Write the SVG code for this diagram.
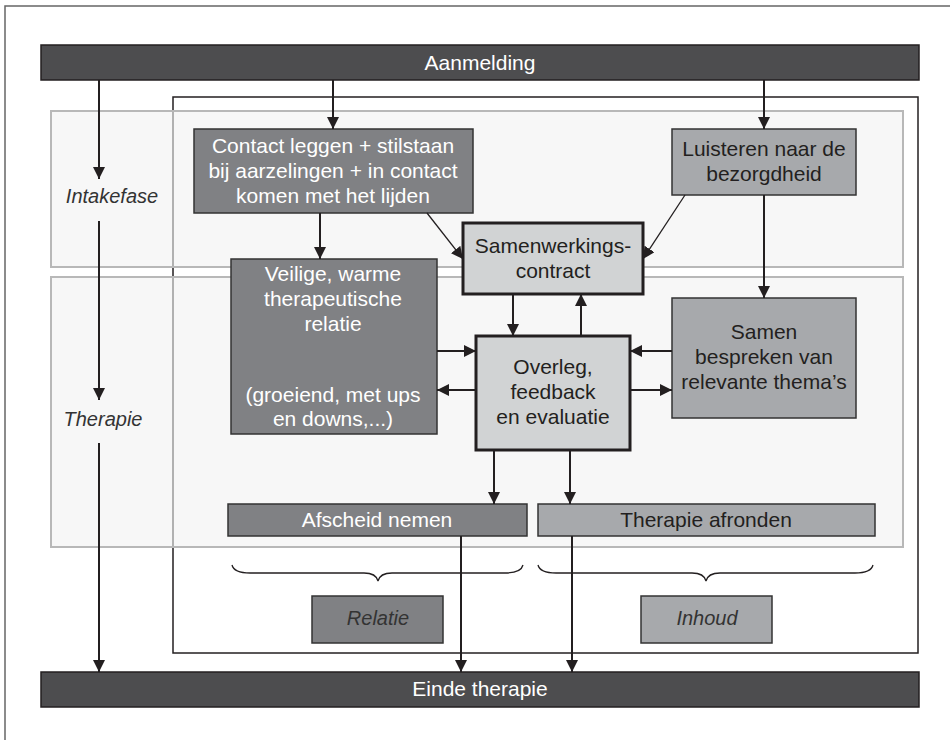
<svg xmlns="http://www.w3.org/2000/svg" width="950" height="740" viewBox="0 0 950 740">
<defs>
<marker id="ah" markerUnits="userSpaceOnUse" markerWidth="12" markerHeight="12" viewBox="0 0 12 12" refX="12" refY="6" orient="auto">
<path d="M0,0 L12,6 L0,12 z" fill="#231f20"/>
</marker>
<style>
text{font-family:"Liberation Sans",Arial,sans-serif;font-size:21px;text-anchor:middle}
.w{fill:#ffffff}
.k{fill:#231f20}
.it{font-style:italic;font-size:20px;fill:#333333}
.bar{fill:#4d4d4f;stroke:#231f20;stroke-width:1.5}
.dk{fill:#808184;stroke:#333333;stroke-width:1.5}
.lt{fill:#a7a9ac;stroke:#333333;stroke-width:1.5}
.ct{fill:#d1d3d4;stroke:#231f20;stroke-width:3}
.band{fill:#f7f7f7;stroke:#b8b8b8;stroke-width:2}
.c{fill:none;stroke:#231f20;stroke-width:2;marker-end:url(#ah)}
.d{fill:none;stroke:#231f20;stroke-width:1.3;marker-end:url(#ah)}
.br{fill:none;stroke:#231f20;stroke-width:1.3}
</style>
</defs>
<rect x="0" y="0" width="950" height="740" fill="#ffffff"/>
<g id="frame">
<path d="M5,740 L5,6 L950,6" fill="none" stroke="#666666" stroke-width="1.5"/>
</g>
<g id="inner-frame">
<rect x="173" y="97" width="745" height="556" fill="#ffffff" stroke="#231f20" stroke-width="1.5"/>
</g>
<g id="band-intake">
<rect x="51" y="111" width="852" height="156" class="band"/>
</g>
<g id="band-therapie">
<rect x="51" y="277" width="852" height="270" class="band"/>
</g>
<path d="M173,112 L173,266 M173,278 L173,546" stroke="#9a9a9a" stroke-width="1.5"/>
<g id="aanmelding">
<rect x="41" y="45" width="878" height="35" class="bar"/>
<text x="480" y="70" class="w">Aanmelding</text>
</g>
<g id="einde">
<rect x="41" y="672" width="878" height="35" class="bar"/>
<text x="480" y="696" class="w">Einde therapie</text>
</g>
<g id="intakefase">
<text x="112" y="203" class="it">Intakefase</text>
</g>
<g id="therapie">
<text x="103" y="426" class="it">Therapie</text>
</g>
<g id="contact">
<rect x="194" y="129" width="279" height="84" class="dk"/>
<text x="333" y="153" class="w">Contact leggen + stilstaan</text>
<text x="333" y="178" class="w">bij aarzelingen + in contact</text>
<text x="333" y="203" class="w">komen met het lijden</text>
</g>
<g id="luisteren">
<rect x="672" y="129" width="184" height="66" class="lt"/>
<text x="764" y="156" class="k">Luisteren naar de</text>
<text x="764" y="181" class="k">bezorgdheid</text>
</g>
<g id="samenwerkingscontract">
<rect x="463" y="223" width="180" height="71" class="ct"/>
<text x="553" y="253" class="k">Samenwerkings-</text>
<text x="553" y="278" class="k">contract</text>
</g>
<g id="veilige">
<rect x="231" y="259" width="206" height="175" class="dk"/>
<text x="333" y="281" class="w">Veilige, warme</text>
<text x="333" y="306" class="w">therapeutische</text>
<text x="333" y="331" class="w">relatie</text>
<text x="333" y="402" class="w">(groeiend, met ups</text>
<text x="333" y="426" class="w">en downs,...)</text>
</g>
<g id="overleg">
<rect x="476" y="336" width="154" height="114" class="ct"/>
<text x="553" y="374" class="k">Overleg,</text>
<text x="553" y="399" class="k">feedback</text>
<text x="553" y="424" class="k">en evaluatie</text>
</g>
<g id="samen">
<rect x="672" y="298" width="184" height="120" class="lt"/>
<text x="764" y="339" class="k">Samen</text>
<text x="764" y="364" class="k">bespreken van</text>
<text x="764" y="389" class="k">relevante thema’s</text>
</g>
<g id="afscheid">
<rect x="228" y="504" width="299" height="32" class="dk"/>
<text x="377" y="527" class="w">Afscheid nemen</text>
</g>
<g id="afronden">
<rect x="538" y="504" width="337" height="32" class="lt"/>
<text x="706" y="527" class="k">Therapie afronden</text>
</g>
<g id="relatie">
<rect x="312" y="596" width="131" height="47" class="dk"/>
<text x="378" y="625" class="it">Relatie</text>
</g>
<g id="inhoud">
<rect x="641" y="596" width="131" height="47" class="lt"/>
<text x="707" y="625" class="it">Inhoud</text>
</g>
<g id="braces">
<path class="br" d="M232,565 Q234,573 250,573 L364,573 Q376,573 378,581 Q380,573 392,573 L505,573 Q521,573 523,565"/>
<path class="br" d="M538,565 Q540,573 556,573 L692,573 Q704,573 706,581 Q708,573 720,573 L855,573 Q871,573 873,565"/>
</g>
<g id="connectors">
<path class="c" d="M99,80 L99,179"/>
<path class="c" d="M99,221 L99,400"/>
<path class="c" d="M99,443 L99,672"/>
<path class="c" d="M333,80 L333,129"/>
<path class="c" d="M764,80 L764,129"/>
<path class="c" d="M320,213 L320,259"/>
<path class="d" d="M427,213 L463,259"/>
<path class="d" d="M685,195 L643,259"/>
<path class="c" d="M764,195 L764,298"/>
<path class="c" d="M513,294 L513,336"/>
<path class="c" d="M581,336 L581,294"/>
<path class="c" d="M437,351 L476,351"/>
<path class="c" d="M476,390 L437,390"/>
<path class="c" d="M672,351 L630,351"/>
<path class="c" d="M630,390 L672,390"/>
<path class="c" d="M494,450 L494,504"/>
<path class="c" d="M570,450 L570,504"/>
<path class="c" d="M461,536 L461,672"/>
<path class="c" d="M572,536 L572,672"/>
</g>
</svg>
